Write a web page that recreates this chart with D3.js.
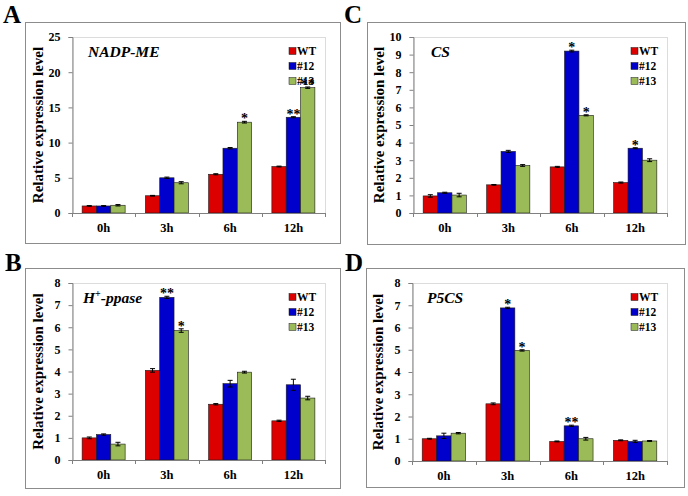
<!DOCTYPE html>
<html>
<head>
<meta charset="utf-8">
<script src="https://cdn.jsdelivr.net/npm/d3@7"></script>
<style>
  html, body { margin: 0; padding: 0; background: #fff; }
</style>
</head>
<body>
<svg id="chart" width="688" height="496"></svg>
<script>
// ---------- data ----------
const categories = ["0h", "3h", "6h", "12h"];
const seriesNames = ["WT", "#12", "#13"];
const seriesColors = ["#dd0000", "#0000cc", "#9bbb59"];

// values per category: [WT, #12, #13]
const nadpValues = [[1.0, 1.0, 1.1], [2.45, 5.0, 4.3], [5.5, 9.2, 12.9], [6.6, 13.6, 17.8]];
const nadpErrors = [[0.05, 0.05, 0.1], [0.05, 0.1, 0.15], [0.08, 0.1, 0.12], [0.06, 0.08, 0.1]];
const nadpStars  = [["", "", ""], ["", "", ""], ["", "", "*"], ["", "**", "**"]];
const nadpTicks  = [0, 5, 10, 15, 20, 25];

const hppaseValues = [[1.0, 1.15, 0.72], [4.05, 7.35, 5.85], [2.52, 3.45, 3.97], [1.77, 3.4, 2.8]];
const hppaseErrors = [[0.04, 0.03, 0.08], [0.08, 0.05, 0.08], [0.03, 0.15, 0.04], [0.03, 0.25, 0.08]];
const hppaseStars  = [["", "", ""], ["", "**", "*"], ["", "", ""], ["", "", ""]];
const hppaseTicks  = [0, 1, 2, 3, 4, 5, 6, 7, 8];

const csValues = [[0.97, 1.15, 1.02], [1.6, 3.5, 2.7], [2.62, 9.2, 5.55], [1.73, 3.68, 3.0]];
const csErrors = [[0.07, 0.03, 0.1], [0.02, 0.06, 0.05], [0.03, 0.05, 0.03], [0.03, 0.03, 0.08]];
const csStars  = [["", "", ""], ["", "", ""], ["", "*", "*"], ["", "*", ""]];
const csTicks  = [0, 1, 2, 3, 4, 5, 6, 7, 8, 9, 10];

const p5csValues = [[1.0, 1.13, 1.25], [2.57, 6.88, 4.97], [0.88, 1.58, 1.0], [0.93, 0.88, 0.9]];
const p5csErrors = [[0.02, 0.12, 0.03], [0.04, 0.03, 0.03], [0.02, 0.03, 0.06], [0.02, 0.05, 0.02]];
const p5csStars  = [["", "", ""], ["", "*", "*"], ["", "**", ""], ["", "", ""]];
const p5csTicks  = [0, 1, 2, 3, 4, 5, 6, 7, 8];

const panelLetters = ["A", "B", "C", "D"];
const yAxisTitle = "Relative expression level";

// ---------- layout ----------
const FONT = "Liberation Serif";
const svg = d3.select("#chart");

const panels = [
  { letter: panelLetters[0], gene: [["NADP-ME", false]], values: nadpValues, errors: nadpErrors, stars: nadpStars, ticks: nadpTicks,
    box: [25, 22, 340, 243], plot: [72, 37, 325, 213], letterPos: [3, 23], geneX: 88 },
  { letter: panelLetters[1], gene: [["H", false], ["+", true], ["-ppase", false]], values: hppaseValues, errors: hppaseErrors, stars: hppaseStars, ticks: hppaseTicks,
    box: [25, 268, 340, 488], plot: [72, 283, 325, 460], letterPos: [5, 271], geneX: 83 },
  { letter: panelLetters[2], gene: [["CS", false]], values: csValues, errors: csErrors, stars: csStars, ticks: csTicks,
    box: [367, 22, 685, 244], plot: [413, 37, 667, 213], letterPos: [344, 23], geneX: 431 },
  { letter: panelLetters[3], gene: [["P5CS", false]], values: p5csValues, errors: p5csErrors, stars: p5csStars, ticks: p5csTicks,
    box: [366, 268, 684, 487], plot: [412, 283, 667, 461], letterPos: [345, 271], geneX: 427 }
];

panels.forEach(drawPanel);

function txt(sel) {
  return sel.append("text").attr("font-family", FONT).attr("font-weight", "bold").attr("fill", "#000");
}

function drawPanel(p) {
  const [bx0, by0, bx1, by1] = p.box;
  const [px0, py0, px1, py1] = p.plot;

  // outer frame
  svg.append("rect")
    .attr("x", bx0 + 0.5).attr("y", by0 + 0.5)
    .attr("width", bx1 - bx0).attr("height", by1 - by0)
    .attr("fill", "#fff").attr("stroke", "#8c8c8c").attr("stroke-width", 1);

  // panel letter
  txt(svg).attr("x", p.letterPos[0]).attr("y", p.letterPos[1])
    .attr("font-size", 25)
    .text(p.letter);

  // plot area frame (faint)
  svg.append("rect")
    .attr("x", px0 + 0.5).attr("y", py0 + 0.5)
    .attr("width", px1 - px0).attr("height", py1 - py0)
    .attr("fill", "none").attr("stroke", "#dcdcdc").attr("stroke-width", 1);

  const x0 = d3.scaleBand().domain(categories).range([px0, px1]).paddingInner(0).paddingOuter(0);
  const bw = x0.bandwidth();
  const x1 = d3.scaleBand().domain(seriesNames).range([bw * 0.16, bw * 0.84]).padding(0);
  const yMax = p.ticks[p.ticks.length - 1];
  const y = d3.scaleLinear().domain([0, yMax]).range([py1, py0]);

  // bars
  const g = svg.append("g");
  categories.forEach((cat, ci) => {
    const cg = g.append("g").attr("transform", `translate(${x0(cat)},0)`);
    seriesNames.forEach((s, si) => {
      const v = p.values[ci][si];
      const e = p.errors[ci][si];
      const bx = x1(s);
      const w = x1.bandwidth();
      cg.append("rect")
        .attr("x", bx).attr("y", y(v))
        .attr("width", w).attr("height", y(0) - y(v))
        .attr("fill", seriesColors[si])
        .attr("stroke", "#1a1a1a").attr("stroke-width", 0.6);
      // error bar
      const cx = bx + w / 2;
      cg.append("line").attr("x1", cx).attr("x2", cx).attr("y1", y(v - e)).attr("y2", y(v + e))
        .attr("stroke", "#000").attr("stroke-width", 1);
      [v - e, v + e].forEach(val => {
        cg.append("line").attr("x1", cx - 2.5).attr("x2", cx + 2.5).attr("y1", y(val)).attr("y2", y(val))
          .attr("stroke", "#000").attr("stroke-width", 1);
      });
      // significance stars
      const st = p.stars[ci][si];
      if (st) {
        txt(cg).attr("x", cx).attr("y", y(v + e) + 2)
          .attr("text-anchor", "middle")
          .attr("font-size", 14)
          .text(st);
      }
    });
  });

  // y axis
  const yAxis = d3.axisLeft(y).tickValues(p.ticks).tickSize(4).tickPadding(8).tickFormat(d3.format("d"));
  const ya = svg.append("g").attr("transform", `translate(${px0 + 0.5},0)`).call(yAxis);
  ya.attr("font-family", FONT);
  ya.select(".domain").attr("stroke", "#808080");
  ya.selectAll(".tick line").attr("stroke", "#808080");
  ya.selectAll(".tick text").attr("font-size", 12).attr("fill", "#000")
    .attr("font-family", FONT).attr("font-weight", "bold");

  // x axis baseline and category ticks
  svg.append("line").attr("x1", px0).attr("x2", px1).attr("y1", y(0) + 0.5).attr("y2", y(0) + 0.5)
    .attr("stroke", "#808080").attr("stroke-width", 1);
  const bounds = categories.map(c => x0(c)).concat([x0.range()[1]]);
  bounds.forEach(bx => {
    svg.append("line").attr("x1", Math.round(bx) + 0.5).attr("x2", Math.round(bx) + 0.5)
      .attr("y1", y(0)).attr("y2", y(0) + 4)
      .attr("stroke", "#808080").attr("stroke-width", 1);
  });
  categories.forEach(c => {
    txt(svg).attr("x", x0(c) + bw / 2).attr("y", y(0) + 19)
      .attr("text-anchor", "middle").attr("font-size", 12.5)
      .text(c);
  });

  // y axis title
  const ty = (py0 + py1) / 2;
  txt(svg).attr("transform", `translate(${px0 - 29},${ty}) rotate(-90)`)
    .attr("text-anchor", "middle").attr("font-size", 15)
    .text(yAxisTitle);

  // gene name
  const gt = txt(svg).attr("x", p.geneX).attr("y", py0 + 20)
    .attr("font-size", 15.5).attr("font-style", "italic");
  p.gene.forEach(([t, sup], i) => {
    if (sup) {
      gt.append("tspan").attr("dy", -6).attr("font-size", 10).attr("font-style", "normal").text(t);
    } else {
      const ts = gt.append("tspan").text(t);
      if (i > 0) ts.attr("dy", 6);
    }
  });

  // legend
  const lg = svg.append("g").attr("transform", `translate(${px1 - 36},${py0 + 14})`);
  seriesNames.forEach((s, si) => {
    const row = lg.append("g").attr("transform", `translate(0,${si * 15})`);
    row.append("rect").attr("x", 0).attr("y", -3.5).attr("width", 7).attr("height", 7)
      .attr("fill", seriesColors[si]).attr("stroke", "#1a1a1a").attr("stroke-width", 0.5);
    txt(row).attr("x", 8).attr("y", 4).attr("font-size", 11.5).text(s);
  });
}
</script>
</body>
</html>
